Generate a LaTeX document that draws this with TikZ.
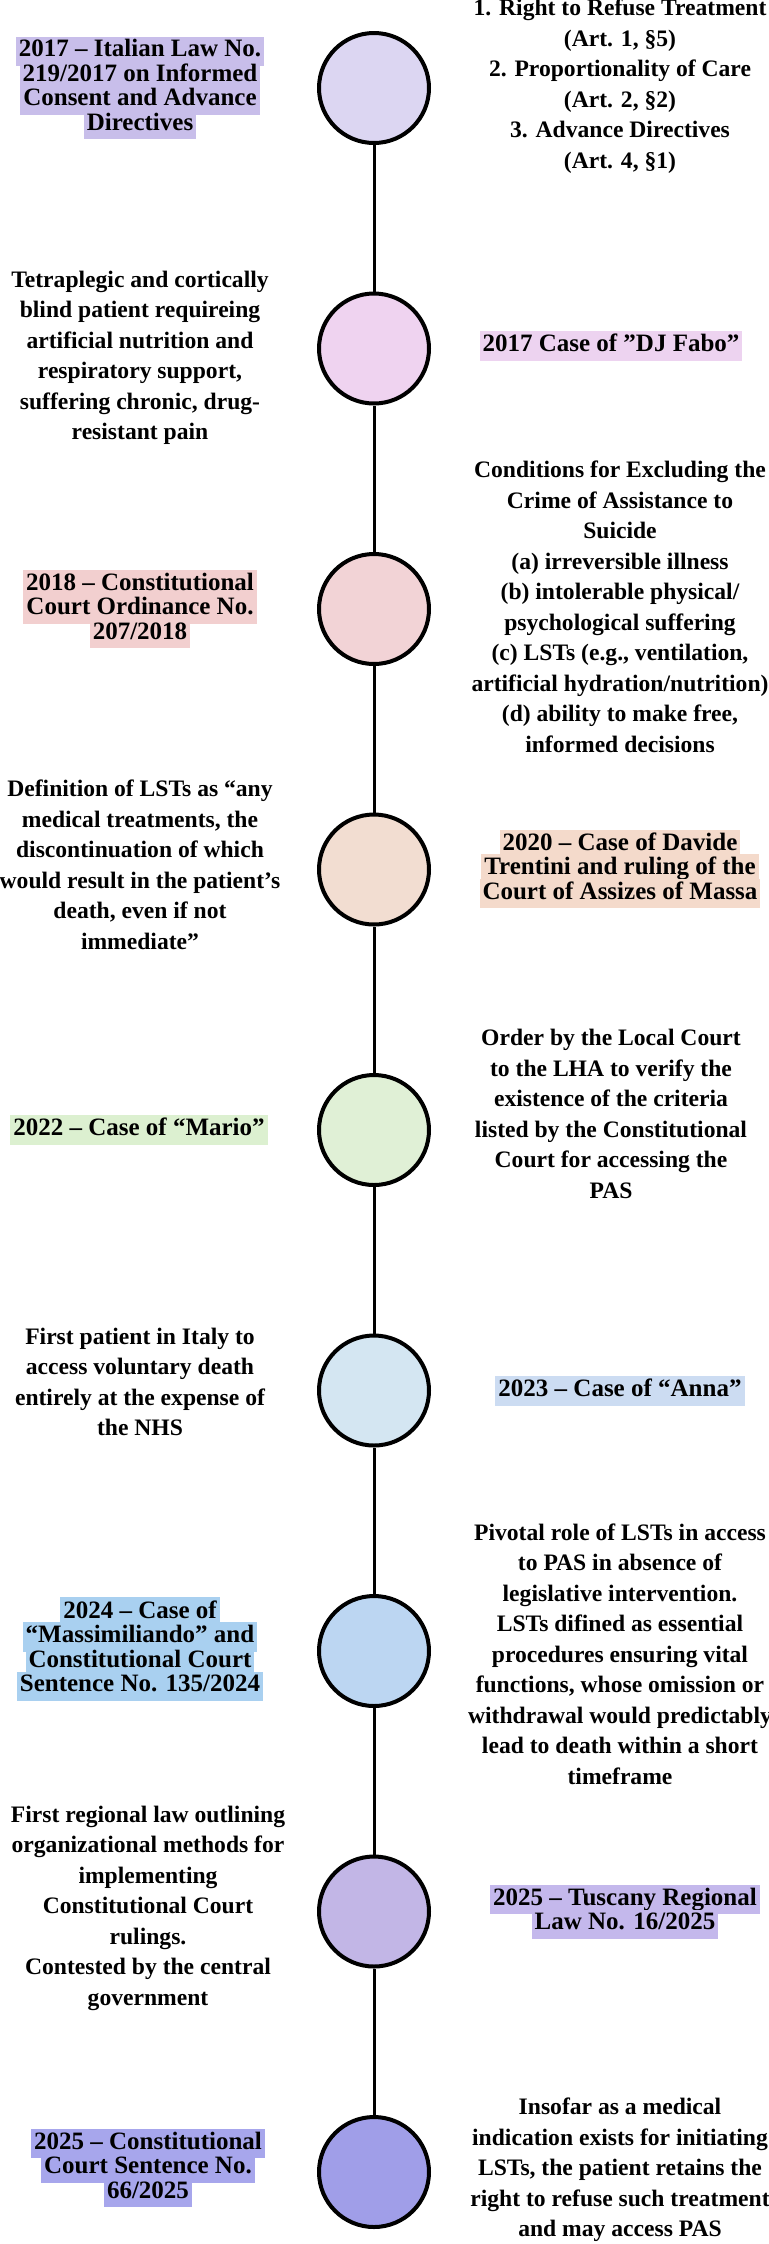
\documentclass[tikz,border=0pt]{standalone}
\usepackage{fontspec}
\setmainfont{Liberation Serif}
\definecolor{fa}{HTML}{DCD6F2}\definecolor{fb}{HTML}{EFD3F0}\definecolor{fc}{HTML}{F2D3D6}
\definecolor{fd}{HTML}{F2DDD1}\definecolor{fe}{HTML}{E0F0D6}\definecolor{ff}{HTML}{D4E6F2}
\definecolor{fg}{HTML}{BCD6F2}\definecolor{fh}{HTML}{C2B6E6}\definecolor{fi}{HTML}{A09EE8}
\definecolor{ha}{HTML}{C8BEEA}\definecolor{hb}{HTML}{EDD3F0}\definecolor{hc}{HTML}{F2CFCF}
\definecolor{hd}{HTML}{F4DACB}\definecolor{he}{HTML}{DCF0D0}\definecolor{hf}{HTML}{CCDCF2}
\definecolor{hg}{HTML}{A9D0F0}\definecolor{hh}{HTML}{C4B8EC}\definecolor{hi}{HTML}{A7A6EC}
\newcommand\myhl[2]{{\setlength\fboxsep{1.5pt}\colorbox{#1}{\rule[-3pt]{0pt}{11.2pt}#2}}}
\newcommand\sq{\char"22\relax}
\tikzset{
  evt/.style={circle,draw=black,line width=2pt,minimum size=55pt,inner sep=0pt},
  desc/.style={align=center,inner sep=0pt,font=\fontsize{11.8}{15.25}\selectfont\bfseries},
  lbl/.style={align=center,inner sep=0pt,font=\fontsize{12.5}{12.25}\selectfont\bfseries},
  conn/.style={line width=1.5pt}
}
\begin{document}
\lineskiplimit=-20pt\relax
\lineskip=0pt\relax
\begin{tikzpicture}[x=0.5pt,y=-0.5pt]
\useasboundingbox (0,0) rectangle (769,2244);
\foreach \i/\c in {1/fa,2/fb,3/fc,4/fd,5/fe,6/ff,7/fg,8/fh,9/fi}
  \node[evt,fill=\c] (c\i) at (374,{88+(\i-1)*260.5}) {};
\foreach \a/\b in {1/2,2/3,3/4,4/5,5/6,6/7,7/8,8/9}
  \draw[conn] (c\a.south) -- (c\b.north);
% 1
\node[lbl] (l1) at (140,88) {\myhl{ha}{2017 – Italian Law No.}\\\myhl{ha}{219/2017 on Informed}\\\myhl{ha}{Consent and Advance}\\\myhl{ha}{Directives}};
\node[desc] (r1) at (620,86) {1. Right to Refuse Treatment\\(Art. 1, §5)\\2. Proportionality of Care\\(Art. 2, §2)\\3. Advance Directives\\(Art. 4, §1)};
% 2
\node[desc] (l2) at (140,358) {Tetraplegic and cortically\\blind patient requireing\\artificial nutrition and\\respiratory support,\\suffering chronic, drug-\\resistant pain};
\node[lbl] (r2) at (611,346) {\myhl{hb}{2017 Case of \sq DJ Fabo\sq}};
% 3
\node[lbl] (l3) at (140,609) {\myhl{hc}{2018 – Constitutional}\\\myhl{hc}{Court Ordinance No.}\\\myhl{hc}{207/2018}};
\node[desc] (r3) at (620,607) {Conditions for Excluding the\\Crime of Assistance to\\Suicide\\(a) irreversible illness\\(b) intolerable physical/\\psychological suffering\\(c) LSTs (e.g., ventilation,\\artificial hydration/nutrition)\\(d) ability to make free,\\informed decisions};
% 4
\node[desc] (l4) at (140,865) {Definition of LSTs as “any\\medical treatments, the\\discontinuation of which\\would result in the patient\char"27\relax s\\death, even if not\\immediate”};
\node[lbl] (r4) at (620,869) {\myhl{hd}{2020 – Case of Davide}\\\myhl{hd}{Trentini and ruling of the}\\\myhl{hd}{Court of Assizes of Massa}};
% 5
\node[lbl] (l5) at (139,1130) {\myhl{he}{2022 – Case of “Mario”}};
\node[desc] (r5) at (611,1114) {Order by the Local Court\\to the LHA to verify the\\existence of the criteria\\listed by the Constitutional\\Court for accessing the\\PAS};
% 6
\node[desc] (l6) at (140,1382) {First patient in Italy to\\access voluntary death\\entirely at the expense of\\the NHS};
\node[lbl] (r6) at (620,1391) {\myhl{hf}{2023 – Case of “Anna”}};
% 7
\node[lbl] (l7) at (140,1649) {\myhl{hg}{2024 – Case of}\\\myhl{hg}{“Massimiliando” and}\\\myhl{hg}{Constitutional Court}\\\myhl{hg}{Sentence No. 135/2024}};
\node[desc] (r7) at (620,1654) {Pivotal role of LSTs in access\\to PAS in absence of\\legislative intervention.\\LSTs difined as essential\\procedures ensuring vital\\functions, whose omission or\\withdrawal would predictably\\lead to death within a short\\timeframe};
% 8
\node[desc] (l8) at (148,1908) {First regional law outlining\\organizational methods for\\implementing\\Constitutional Court\\rulings.\\Contested by the central\\government};
\node[lbl] (r8) at (625,1912) {\myhl{hh}{2025 – Tuscany Regional}\\\myhl{hh}{Law No. 16/2025}};
% 9
\node[lbl] (l9) at (148,2168) {\myhl{hi}{2025 – Constitutional}\\\myhl{hi}{Court Sentence No.}\\\myhl{hi}{66/2025}};
\node[desc] (r9) at (620,2170) {Insofar as a medical\\indication exists for initiating\\LSTs, the patient retains the\\right to refuse such treatment\\and may access PAS};
\end{tikzpicture}
\end{document}
